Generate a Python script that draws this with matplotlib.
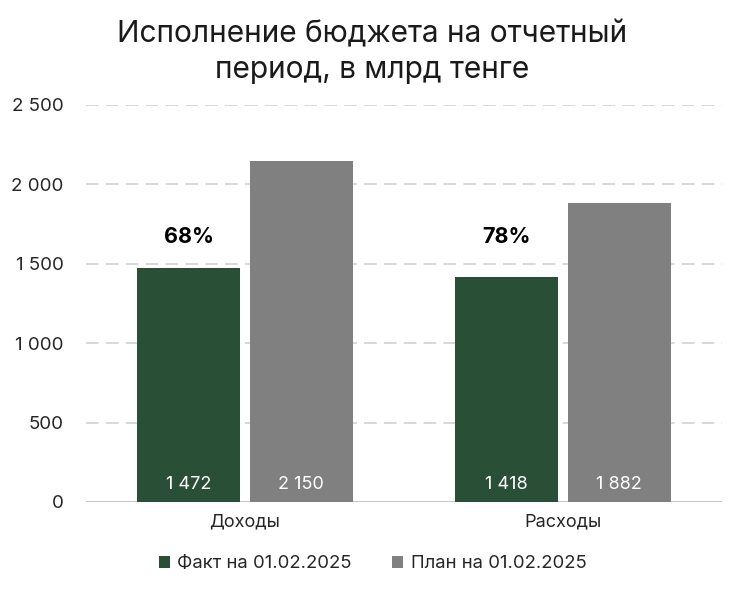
import matplotlib
matplotlib.use("Agg")
import matplotlib.pyplot as plt
import numpy as np

plt.rcParams['font.family'] = ['Inter', 'DejaVu Sans']

categories = ["Доходы", "Расходы"]
fact = [1472, 1418]
plan = [2150, 1882]
fact_labels = ["1 472", "1 418"]
plan_labels = ["2 150", "1 882"]
pct_labels = ["68%", "78%"]
yticks = [0, 500, 1000, 1500, 2000, 2500]
ytick_labels = ["0", "500", "1 000", "1 500", "2 000", "2 500"]
series_names = ["Факт на 01.02.2025", "План на 01.02.2025"]

c_fact = "#2A4F37"
c_plan = "#808080"

fig = plt.figure(figsize=(7.45, 5.93), dpi=100)
ax = fig.add_axes([0.1154, 0.1535, 0.8536, 0.6695])

x = np.arange(len(categories))
w = 0.323
off = 0.177
b1 = ax.bar(x - off, fact, w, color=c_fact, label=series_names[0], zorder=3)
b2 = ax.bar(x + off, plan, w, color=c_plan, label=series_names[1], zorder=3)

for i in range(len(categories)):
    ax.text(x[i] - off, 107, fact_labels[i], ha='center', va='center', color='white', fontsize=13, zorder=4)
    ax.text(x[i] + off, 107, plan_labels[i], ha='center', va='center', color='white', fontsize=13, zorder=4)
    ax.text(x[i] - off, 1668, pct_labels[i], ha='center', va='center', color='black', fontsize=15.5, fontweight='bold', zorder=4)

ax.set_xlim(-0.5, 1.5)
ax.set_ylim(0, 2500)
ax.set_yticks(yticks)
ax.set_yticklabels(ytick_labels, fontsize=13.5, color='#262626')
ax.set_xticks(x)
ax.set_xticklabels(categories, fontsize=13, color='#262626')
ax.tick_params(axis='both', length=0, pad=8)
ax.tick_params(axis='y', pad=16)
for gy in yticks[1:]:
    ax.axhline(gy, color='#D4D4D4', lw=1.3, ls=(0, (7, 4)), zorder=1)
ax.axhline(0, color='#BFBFBF', lw=1.3, zorder=2)
for s in ax.spines.values():
    s.set_visible(False)

fig.text(0.5, 0.912, "Исполнение бюджета на отчетный\nпериод, в млрд тенге", ha='center', va='center',
         fontsize=21.5, color='#1a1a1a', linespacing=1.32)

leg = fig.legend(handles=[b1, b2], loc='center', bbox_to_anchor=(0.5, 0.049), ncol=2, frameon=False,
                 fontsize=13.3, handlelength=0.6, handleheight=0.6, handletextpad=0.4, columnspacing=2.2)
for t in leg.get_texts():
    t.set_color('#262626')

fig.savefig("out.png", dpi=100)
